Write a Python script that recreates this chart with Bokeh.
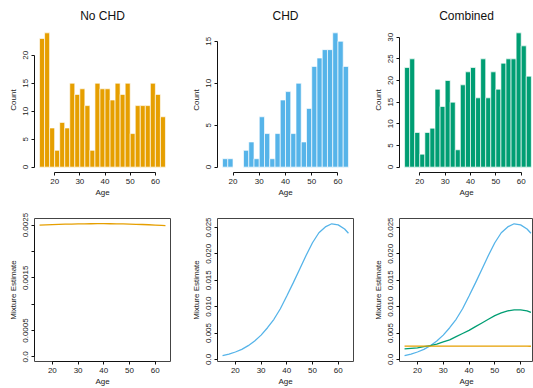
from bokeh.plotting import figure
from bokeh.models import Range1d, FixedTicker, ColumnDataSource
from bokeh.layouts import row, column
from bokeh.embed import file_html
from bokeh.resources import INLINE

# ---------------- data ----------------
bin_left = [14, 16, 18, 20, 22, 24, 26, 28, 30, 32, 34, 36, 38, 40, 42, 44, 46, 48, 50, 52, 54, 56, 58, 60, 62]
no_chd = [23, 24, 7, 3, 8, 7, 15, 13, 14, 11, 3, 15, 14, 14, 12, 15, 13, 15, 6, 11, 11, 11, 15, 13, 9]

chd_bin_left = [16, 18, 20, 22, 24, 26, 28, 30, 32, 34, 36, 38, 40, 42, 44, 46, 48, 50, 52, 54, 56, 58, 60, 62]
chd = [1, 1, 0, 0, 2, 3, 1, 6, 4, 1, 4, 8, 9, 4, 10, 3, 7, 12, 13, 14, 14, 16, 15, 12]

combined = [23, 25, 8, 3, 8, 9, 18, 14, 20, 15, 4, 19, 22, 23, 16, 25, 16, 22, 18, 24, 25, 25, 31, 28, 21]

curve_age = [15, 17.5, 20, 22.5, 25, 27.5, 30, 32.5, 35, 37.5, 40, 42.5, 45, 47.5, 50, 52.5, 55, 57.5, 60, 62.5, 64]
mix_no_chd = [0.002500, 0.002505, 0.002510, 0.002514, 0.002518, 0.002521, 0.002523, 0.002525, 0.002526,
              0.002527, 0.002527, 0.002526, 0.002525, 0.002523, 0.002520, 0.002516, 0.002512, 0.002507,
              0.002502, 0.002496, 0.002492]
mix_chd = [0.0007, 0.0010, 0.0014, 0.0019, 0.0026, 0.0035, 0.0046, 0.0060, 0.0076, 0.0096, 0.0120,
           0.0145, 0.0171, 0.0197, 0.0221, 0.0240, 0.0251, 0.0257, 0.0255, 0.0247, 0.0239]
mix_combined = [0.0020, 0.0021, 0.0022, 0.0024, 0.0026, 0.0029, 0.0033, 0.0037, 0.0043, 0.0049, 0.0055,
                0.0062, 0.0069, 0.0076, 0.0083, 0.0088, 0.0092, 0.0094, 0.0094, 0.0092, 0.0089]

age_ticks = [20, 30, 40, 50, 60]

ORANGE = "#E69F00"
BLUE = "#56B4E9"
GREEN = "#009E73"
FONT = "Liberation Sans"
TXT = "#222222"

COL_W = [183, 183, 167]
BORDER_L = [34, 34, 33]
BORDER_R = [13, 13, 0]


def base_fig(i, height, top, bottom, xr, yr, title=None, box=False):
    p = figure(width=COL_W[i], height=height, x_range=Range1d(*xr), y_range=Range1d(*yr),
               output_backend="svg", toolbar_location=None,
               min_border_left=BORDER_L[i], min_border_right=BORDER_R[i],
               min_border_top=top, min_border_bottom=bottom)
    p.xgrid.visible = False
    p.ygrid.visible = False
    p.background_fill_color = "white"
    p.border_fill_color = "white"
    if box:
        p.outline_line_color = "#444444"
        p.outline_line_width = 1
    else:
        p.outline_line_color = None
    if title:
        p.title.text = title
        p.title.align = "center"
        p.title.text_font = FONT
        p.title.text_font_size = "12px"
        p.title.text_font_style = "normal"
        p.title.text_color = "#111111"
        p.title.standoff = 9
    return p


def style_axes(p, yticks, ybounds, ylabel, ylabel_over=None):
    for ax in (p.xaxis[0], p.yaxis[0]):
        ax.axis_line_color = "#111111"
        ax.axis_line_width = 1
        ax.major_tick_line_color = "#111111"
        ax.major_tick_out = 3
        ax.major_tick_in = 0
        ax.minor_tick_line_color = None
        ax.major_label_text_font = FONT
        ax.major_label_text_font_size = "8px"
        ax.major_label_text_color = TXT
        ax.major_label_standoff = 3
        ax.axis_label_text_font = FONT
        ax.axis_label_text_font_size = "8px"
        ax.axis_label_text_font_style = "normal"
        ax.axis_label_text_color = TXT
    p.xaxis.ticker = FixedTicker(ticks=age_ticks)
    p.xaxis.bounds = (age_ticks[0], age_ticks[-1])
    p.xaxis.axis_label = "Age"
    p.xaxis.axis_label_standoff = 1
    p.yaxis.ticker = FixedTicker(ticks=yticks)
    p.yaxis.bounds = ybounds
    p.yaxis.axis_label = ylabel
    p.yaxis.axis_label_standoff = 3
    p.yaxis.major_label_orientation = "vertical"
    if ylabel_over:
        p.yaxis.major_label_overrides = ylabel_over


def hist(i, lefts, counts, color, title, xr, yr, yticks, ybounds):
    p = base_fig(i, 200, 27, 28, xr, yr, title=title)
    src = ColumnDataSource(dict(left=lefts, right=[v + 2 for v in lefts],
                                top=counts, bottom=[0] * len(counts)))
    p.quad(left="left", right="right", top="top", bottom="bottom", source=src,
           fill_color=color, line_color="white", line_alpha=0.65, line_width=1)
    style_axes(p, yticks, ybounds, "Count")
    return p


h1 = hist(0, bin_left, no_chd, ORANGE, "No CHD", (12.0, 66.0), (-0.96, 24.96),
          [0, 5, 10, 15, 20], (0, 20))
h2 = hist(1, chd_bin_left, chd, BLUE, "CHD", (14.08, 65.92), (-0.64, 16.64),
          [0, 5, 10, 15], (0, 15))
h3 = hist(2, bin_left, combined, GREEN, "Combined", (12.0, 64.85), (-1.24, 32.24),
          [0, 5, 10, 15, 20, 25, 30], (0, 30))

m1 = base_fig(0, 188, 18, 26, (13.04, 65.96), (-0.000088, 0.002626), box=True)
m1.line(curve_age, mix_no_chd, line_color=ORANGE, line_width=1.3)
style_axes(m1, [0, 0.0005, 0.001, 0.0015, 0.002, 0.0025], (0, 0.0025), "Mixture Estimate",
           {0: "0.0", 0.0005: "0.0005", 0.001: "", 0.0015: "0.0015", 0.002: "", 0.0025: "0.0025"})

yt = [0, 0.005, 0.01, 0.015, 0.02, 0.025]
ylo = {0: "0.0", 0.005: "0.005", 0.01: "0.010", 0.015: "0.015", 0.02: "0.020", 0.025: "0.025"}

m2 = base_fig(1, 188, 18, 26, (13.04, 65.96), (-0.0004, 0.0267), box=True)
m2.line(curve_age, mix_chd, line_color=BLUE, line_width=1.3)
style_axes(m2, yt, (0, 0.025), "Mixture Estimate", ylo)

m3 = base_fig(2, 188, 18, 26, (13.04, 65.0), (-0.0004, 0.0267), box=True)
m3.line(curve_age, mix_chd, line_color=BLUE, line_width=1.3)
m3.line(curve_age, mix_combined, line_color=GREEN, line_width=1.3)
m3.line(curve_age, mix_no_chd, line_color=ORANGE, line_width=1.3)
style_axes(m3, yt, (0, 0.025), "Mixture Estimate", ylo)

layout = column(row(h1, h2, h3), row(m1, m2, m3))

open("out.html", "w").write(file_html(layout, INLINE))
